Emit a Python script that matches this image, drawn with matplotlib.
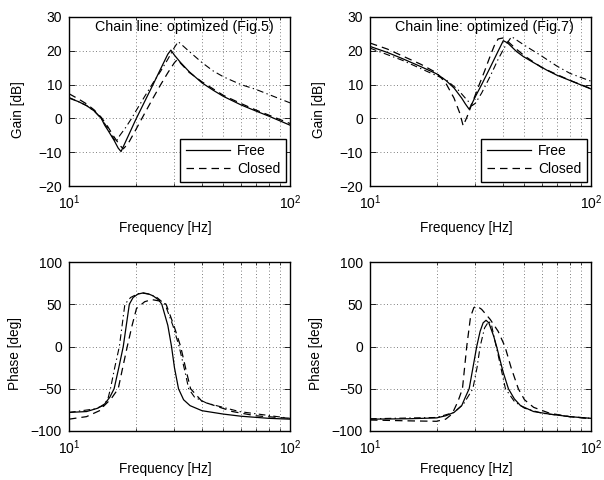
import matplotlib
matplotlib.use("Agg")
import matplotlib.pyplot as plt
from matplotlib.ticker import LogLocator, NullFormatter, FixedLocator

plt.rcParams['font.family'] = ['Liberation Sans', 'DejaVu Sans']
plt.rcParams['font.size'] = 10
plt.rcParams['mathtext.fontset'] = 'custom'
plt.rcParams['mathtext.rm'] = 'Liberation Sans'

# ---------------- Data ----------------
# Fig.5 gain
g5_free_f = [10, 11, 12, 13, 14, 14.5, 15, 16, 16.7, 17.2, 18, 20, 22, 24, 26, 28, 28.9, 30, 32, 35, 40, 45, 50, 60, 70, 80, 100]
g5_free_v = [6, 5, 3.8, 2.2, 0, -2, -3.5, -6.5, -8.8, -9.8, -7, -0.5, 5, 10, 14.7, 19, 20.2, 18.7, 16.5, 13.8, 10.5, 8.3, 6.5, 4, 2.2, 0.7, -2]
g5_closed_f = [10, 11, 12, 13, 14, 15, 16, 17, 17.6, 18.5, 20, 22, 24, 26, 28, 30, 31, 32, 35, 40, 50, 60, 70, 80, 100]
g5_closed_v = [7.3, 5.8, 4.3, 2.5, 0.3, -2.5, -5.5, -8, -9, -7.5, -3.5, 1.5, 6, 10, 13.5, 16.5, 17.5, 16.3, 13.6, 10.8, 6.8, 4.4, 2.5, 1, -1.5]
g5_chain_f = [10, 11, 12, 13, 14, 15, 15.6, 16.3, 17, 18, 19.2, 20, 22, 24, 26, 28, 30, 31.2, 33, 35, 40, 45, 50, 60, 70, 80, 100]
g5_chain_v = [6.2, 5, 3.8, 2.2, 0, -3, -5, -7, -5, -2.8, 0, 2, 6.5, 10.5, 14, 17.5, 21, 22.7, 21.3, 19.8, 16.5, 14, 12.3, 10, 8.6, 7.1, 4.6]

# Fig.7 gain
g7_free_f = [10, 12, 14, 17, 20, 22, 24, 26, 27, 28.1, 29, 30, 32, 35, 38, 40.1, 42, 46, 49.4, 55, 63, 70, 80.5, 100]
g7_free_v = [21.3, 19.5, 17.7, 15.3, 13.2, 11.3, 9, 6, 4.3, 2.7, 4.5, 6.5, 10, 15.1, 19.9, 23, 22.3, 19.8, 18.3, 16.5, 14.3, 12.8, 11.2, 8.7]
g7_closed_f = [10, 12, 14, 17, 20, 22, 24, 25.5, 26.4, 27.5, 29, 31, 33, 35, 36.5, 38, 40, 42, 45, 50, 60, 70, 80, 100]
g7_closed_v = [22.3, 20.5, 18.5, 16, 13.5, 10.5, 6, 1.5, -2.2, 0.5, 4.5, 9.5, 14, 18.5, 21.5, 23.5, 23.8, 22.8, 21, 18.5, 15, 13, 11.3, 8.8]
g7_chain_f = [10, 14, 18.7, 22, 25, 27, 29, 30, 32, 35, 38, 41, 43.7, 47, 51.2, 58.7, 70, 80.5, 100]
g7_chain_v = [20.8, 17.2, 13.5, 11.5, 8.5, 6, 3.8, 4.5, 7.5, 12.5, 17.5, 21.5, 24.2, 22.8, 21.2, 18.8, 15.5, 13.3, 11]

# Fig.5 phase
p5_free_f = [10, 12, 13.5, 14.5, 15.3, 16, 16.8, 17.6, 18.75, 19.5, 20.5, 21.7, 23, 24, 25.5, 26.3, 28, 29.1, 30, 31.3, 33, 35.3, 40, 50, 60, 80, 100]
p5_free_v = [-78, -77, -73, -68, -60, -50, -25, 0, 50, 58, 62, 63.5, 62, 60, 55, 50, 25, 0, -25, -50, -63, -70, -76, -80, -82.5, -85, -86]
p5_closed_f = [10, 12, 14, 14.3, 15.5, 16.7, 17.5, 18.35, 19.3, 20.2, 22, 23.7, 25.5, 27.5, 29.8, 32, 34, 35.5, 40, 55, 70, 100]
p5_closed_v = [-86, -83, -75, -71, -62, -50, -25, 0, 25, 45, 53, 55.5, 54, 50, 25, 0, -30, -50, -65, -77, -82, -85]
p5_chain_f = [10, 13, 14.3, 15, 15.4, 16.1, 16.9, 17.9, 19, 20.5, 21.7, 23, 25, 27.2, 29.5, 31.5, 33.5, 34.8, 37, 42, 59, 100]
p5_chain_v = [-78, -74, -70, -62, -50, -25, 0, 50, 58, 62.5, 63, 62, 58, 50, 25, 0, -30, -50, -60, -67, -77, -85]

# Fig.7 phase
p7_free_f = [10, 15, 20, 22, 24, 26, 27, 28.1, 29, 30.4, 31.5, 32.5, 33.5, 34.5, 36.3, 37.4, 40, 42.3, 45, 48, 55, 65, 80, 100]
p7_free_v = [-86, -85.5, -84.5, -82, -78, -70, -60, -50, -30, 0, 18, 28, 31, 28, 12, 0, -30, -50, -62, -70, -77, -80, -83, -85]
p7_closed_f = [10, 15, 20, 22, 23.5, 25, 26.2, 27.4, 28.5, 29.5, 30.4, 32, 35, 38, 40.8, 43.5, 46.9, 50, 55, 65, 80, 100]
p7_closed_v = [-87, -88, -88.5, -86, -80, -65, -50, 0, 35, 46, 48, 44, 32, 18, 0, -25, -50, -63, -72, -79, -83, -85.5]
p7_chain_f = [10, 20, 24, 26.5, 29.2, 30.5, 31.5, 33, 34.5, 35.5, 36.5, 38, 41, 45, 50, 60, 80, 100]
p7_chain_v = [-85.5, -84, -78, -68, -50, -25, 0, 22, 30, 25, 10, -10, -50, -65, -73, -79, -83, -85]

gain_ticks = [-20, -10, 0, 10, 20, 30]
phase_ticks = [-100, -50, 0, 50, 100]
titles = ["Chain line: optimized (Fig.5)", "Chain line: optimized (Fig.7)"]

# ---------------- Figure ----------------
fig = plt.figure(figsize=(6.04, 4.80), dpi=100)
W, H = 604, 480
def add_ax(l, r, t, b):
    return fig.add_axes([l / W, 1 - b / H, (r - l) / W, (b - t) / H])

ax_g5 = add_ax(69, 290, 17, 186)
ax_g7 = add_ax(370, 591, 17, 186)
ax_p5 = add_ax(69, 290, 262, 431)
ax_p7 = add_ax(370, 591, 262, 431)

solid = dict(color='black', lw=0.9, ls='-')
dashed = dict(color='black', lw=0.9, ls=(0, (6, 4)))
chain = dict(color='black', lw=0.8, ls=(0, (6, 3, 1.2, 3)))

def style(ax, yticks, ylabel, ylab_x, ylab_y, xlab_y):
    ax.set_xscale('log')
    ax.set_xlim(10, 100)
    ax.set_ylim(yticks[0], yticks[-1])
    ax.yaxis.set_major_locator(FixedLocator(yticks))
    ax.xaxis.set_major_locator(LogLocator(base=10, numticks=5))
    ax.xaxis.set_minor_locator(LogLocator(base=10, subs=range(2, 10), numticks=12))
    ax.xaxis.set_minor_formatter(NullFormatter())
    ax.tick_params(which='both', direction='in', top=True, right=True, labelsize=10)
    ax.tick_params(which='major', length=4, width=0.6, pad=5)
    ax.tick_params(which='minor', length=2, width=0.5)
    ax.grid(True, which='major', axis='both', ls=(0, (1, 3)), color='#555555', lw=0.6)
    ax.grid(True, which='minor', axis='x', ls=(0, (1, 3)), color='#555555', lw=0.6)
    for s in ax.spines.values():
        s.set_linewidth(1.0)
    ax.set_xlabel('Frequency [Hz]', fontsize=9.8)
    ax.xaxis.set_label_coords(0.435, xlab_y)
    ax.set_ylabel(ylabel, fontsize=9.8)
    ax.yaxis.set_label_coords(ylab_x, ylab_y)

for ax, fr, fc, fh, vr, vc, vh, title in [
    (ax_g5, g5_free_f, g5_closed_f, g5_chain_f, g5_free_v, g5_closed_v, g5_chain_v, titles[0]),
    (ax_g7, g7_free_f, g7_closed_f, g7_chain_f, g7_free_v, g7_closed_v, g7_chain_v, titles[1]),
]:
    ax.plot(fr, vr, label='Free', **solid)
    ax.plot(fc, vc, label='Closed', **dashed)
    ax.plot(fh, vh, **chain)
    style(ax, gain_ticks, 'Gain [dB]', -0.2, 0.455, -0.21)
    ax.text(0.52, 0.94, title, transform=ax.transAxes, ha='center', va='center', fontsize=10.3)
    leg = ax.legend(loc='lower right', fontsize=10, frameon=True, fancybox=False,
                    handlelength=3.2, borderaxespad=0.3, borderpad=0.4,
                    labelspacing=0.3, handletextpad=0.5)
    leg.get_frame().set_edgecolor('black')
    leg.get_frame().set_linewidth(1.0)
    leg.get_frame().set_alpha(1)

for ax, fr, fc, fh, vr, vc, vh in [
    (ax_p5, p5_free_f, p5_closed_f, p5_chain_f, p5_free_v, p5_closed_v, p5_chain_v),
    (ax_p7, p7_free_f, p7_closed_f, p7_chain_f, p7_free_v, p7_closed_v, p7_chain_v),
]:
    ax.plot(fr, vr, **solid)
    ax.plot(fc, vc, **dashed)
    ax.plot(fh, vh, **chain)
    style(ax, phase_ticks, 'Phase [deg]', -0.213, 0.46, -0.185)

fig.savefig('out.png', dpi=100)
